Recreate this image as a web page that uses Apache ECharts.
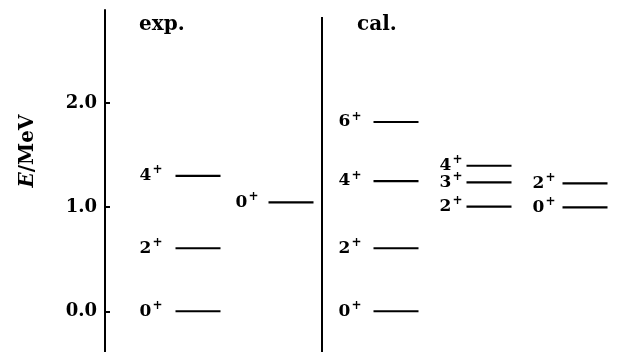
<!DOCTYPE html>
<html>
<head>
<meta charset="utf-8">
<script src="https://cdn.jsdelivr.net/npm/echarts@6/dist/echarts.min.js"></script>
<style>
  html, body { margin: 0; padding: 0; background: #fff; }
  #chart { width: 618px; height: 352px; }
</style>
</head>
<body>
<div id="chart"></div>
<script>
// Level energies (MeV) and spins, one pair of arrays per column
const expGsSpins = ['0', '2', '4'];
const expGsEnergies = [0.00, 0.605, 1.30];
const expExcSpins = ['0'];
const expExcEnergies = [1.046];
const calGsSpins = ['0', '2', '4', '6'];
const calGsEnergies = [0.00, 0.605, 1.25, 1.817];
const calGammaSpins = ['2', '3', '4'];
const calGammaEnergies = [1.004, 1.238, 1.397];
const calBetaSpins = ['0', '2'];
const calBetaEnergies = [0.998, 1.228];
const yTickValues = [0, 1, 2];
const panelTitles = ['exp.', 'cal.'];

// Column placement (x in pixels along the hidden x axis) and label gap
const columns = [
  { x: 198, gap: 13, spins: expGsSpins, energies: expGsEnergies },
  { x: 291, gap: 10, spins: expExcSpins, energies: expExcEnergies },
  { x: 396, gap: 12, spins: calGsSpins, energies: calGsEnergies },
  { x: 489, gap: 4, spins: calGammaSpins, energies: calGammaEnergies },
  { x: 585, gap: 7, spins: calBetaSpins, energies: calBetaEnergies }
];
const dividerX = 322;
const levelHalfWidth = 22.5;

const levels = [];
columns.forEach((c, ci) => {
  c.energies.forEach((e, i) => levels.push({ col: ci, energy: e, spin: c.spins[i] }));
});

const serif = 'DejaVu Serif';

const chart = echarts.init(document.getElementById('chart'), null, { renderer: 'canvas' });
chart.setOption({
  backgroundColor: '#fff',
  animation: false,
  grid: { left: 105, right: 0, top: 10, bottom: 0 },
  xAxis: {
    type: 'value', min: 105, max: 618, show: false
  },
  yAxis: {
    type: 'value', min: -0.391, max: 2.892,
    axisLine: { show: true, lineStyle: { color: '#000', width: 2 } },
    axisTick: { show: true, inside: true, length: 5, customValues: yTickValues, lineStyle: { color: '#000', width: 2 } },
    axisLabel: {
      customValues: yTickValues, margin: 8,
      formatter: v => v.toFixed(1),
      color: '#000', fontFamily: serif, fontWeight: 'bold', fontSize: 18
    },
    splitLine: { show: false }
  },
  graphic: [
    {
      type: 'text', left: 139, top: 15,
      style: { text: panelTitles[0], fill: '#000', font: 'bold 20px "DejaVu Serif"' }
    },
    {
      type: 'text', left: 357, top: 15,
      style: { text: panelTitles[1], fill: '#000', font: 'bold 20px "DejaVu Serif"' }
    },
    {
      type: 'text', x: 28, y: 151, rotation: Math.PI / 2,
      style: {
        text: '{e|E}{r|/MeV}', align: 'center', verticalAlign: 'middle', fill: '#000',
        rich: {
          e: { fontFamily: serif, fontWeight: 'bold', fontStyle: 'italic', fontSize: 20, fill: '#000' },
          r: { fontFamily: serif, fontWeight: 'bold', fontSize: 20, fill: '#000' }
        }
      }
    }
  ],
  series: [{
    type: 'custom',
    coordinateSystem: 'cartesian2d',
    data: levels.map(l => [columns[l.col].x, l.energy]),
    renderItem: (params, api) => {
      const lv = levels[params.dataIndex];
      const col = columns[lv.col];
      const p = api.coord([api.value(0), api.value(1)]);
      return {
        type: 'group',
        children: [
          {
            type: 'line',
            shape: { x1: p[0] - levelHalfWidth, y1: p[1], x2: p[0] + levelHalfWidth, y2: p[1] },
            style: { stroke: '#000', lineWidth: 2.2 }
          },
          {
            type: 'text',
            x: p[0] - levelHalfWidth - col.gap, y: p[1],
            style: {
              text: '{d|' + lv.spin + '}{s|+}',
              align: 'right', verticalAlign: 'middle', fill: '#000',
              rich: {
                d: { fontFamily: serif, fontWeight: 'bold', fontSize: 17, fill: '#000' },
                s: { fontFamily: serif, fontWeight: 'bold', fontSize: 12, fill: '#000', padding: [0, 0, 11, 1] }
              }
            }
          }
        ]
      };
    },
    markLine: {
      silent: true, symbol: 'none', label: { show: false },
      lineStyle: { color: '#000', width: 2, type: 'solid' },
      data: [[{ coord: [dividerX, 2.824] }, { coord: [dividerX, -0.391] }]]
    }
  }]
});
</script>
</body>
</html>
